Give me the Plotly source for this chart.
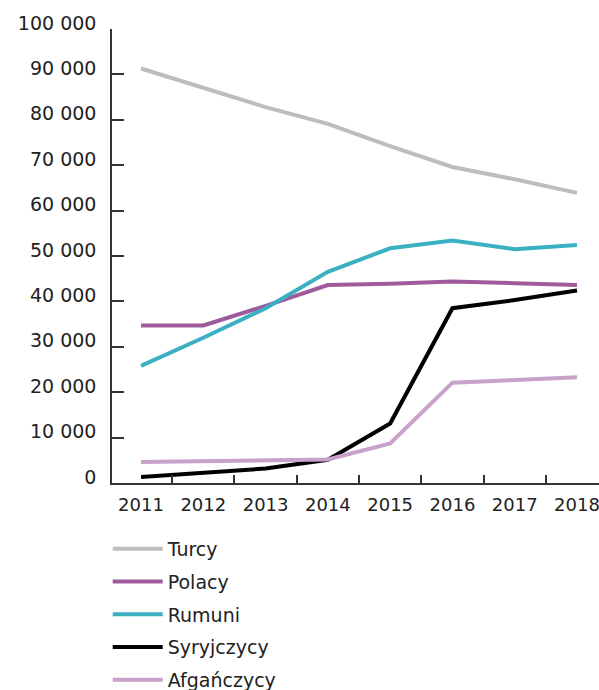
import plotly.graph_objects as go

years = [2011, 2012, 2013, 2014, 2015, 2016, 2017, 2018]
turcy = [91300, 87100, 82800, 79100, 74200, 69600, 66900, 63900]
polacy = [34700, 34700, 39000, 43600, 43900, 44400, 44000, 43600]
rumuni = [25800, 32000, 38500, 46500, 51700, 53400, 51500, 52400]
syryjczycy = [1300, 2300, 3200, 5100, 13100, 38500, 40300, 42400]
afganczycy = [4600, 4800, 5000, 5200, 8700, 22100, 22700, 23300]

series_names = ["Turcy", "Polacy", "Rumuni", "Syryjczycy", "Afgańczycy"]
series_values = [turcy, polacy, rumuni, syryjczycy, afganczycy]
colors = ["#bdbdbd", "#9f5a9c", "#3bb0c3", "#000000", "#c9a1c9"]

y_tick_vals = [0, 10000, 20000, 30000, 40000, 50000, 60000, 70000, 80000, 90000, 100000]
y_tick_text = ["0", "10 000", "20 000", "30 000", "40 000", "50 000",
               "60 000", "70 000", "80 000", "90 000", "100 000"]
year_labels = [str(y) for y in years]
boundaries = [y + 0.5 for y in years[:-1]]

FONT = "DejaVu Sans"
TXT = "#222222"

fig = go.Figure()
for name, vals, col in zip(series_names, series_values, colors):
    fig.add_trace(go.Scatter(
        x=years, y=vals, name=name, mode="lines",
        line=dict(color=col, width=4),
        legendgroup=name,
    ))

fig.update_layout(
    width=599, height=690,
    margin=dict(l=112, r=0, t=29, b=207, autoexpand=False),
    plot_bgcolor="white", paper_bgcolor="white",
    font=dict(family=FONT, color=TXT, size=19),
    showlegend=True,
    legend=dict(
        orientation="v", x=-0.0088, xanchor="left", y=-0.1035, yanchor="top",
        font=dict(family=FONT, size=19, color=TXT),
        itemwidth=50, tracegroupgap=5,
        bgcolor="rgba(0,0,0,0)",
    ),
)

fig.update_xaxes(
    range=[2010.5344, 2018.353], automargin=False,
    tickmode="array", tickvals=years, ticktext=year_labels,
    ticks="", showgrid=False, zeroline=False,
    showline=True, linecolor="#333333", linewidth=1.5,
    ticklabelstandoff=5, ticklabeloverflow="allow",
    tickfont=dict(family=FONT, size=18, color=TXT),
    minor=dict(tickmode="array", tickvals=boundaries, ticks="inside",
               ticklen=8, tickwidth=1.5, tickcolor="#333333", showgrid=False),
)
fig.update_yaxes(
    range=[0, 100000], automargin=False,
    tickmode="array", tickvals=y_tick_vals, ticktext=y_tick_text,
    ticks="inside", ticklen=12, tickwidth=1.5, tickcolor="#333333",
    showgrid=False, zeroline=False,
    showline=True, linecolor="#333333", linewidth=1.5,
    ticklabelstandoff=10, ticklabelshift=-6,
    tickfont=dict(family=FONT, size=19, color=TXT),
)

fig.write_html(
    "out.html",
    config={"displayModeBar": False},
    post_script="document.body.style.margin='0';"
                "document.documentElement.style.overflow='hidden';"
                "document.body.style.overflow='hidden';",
)
